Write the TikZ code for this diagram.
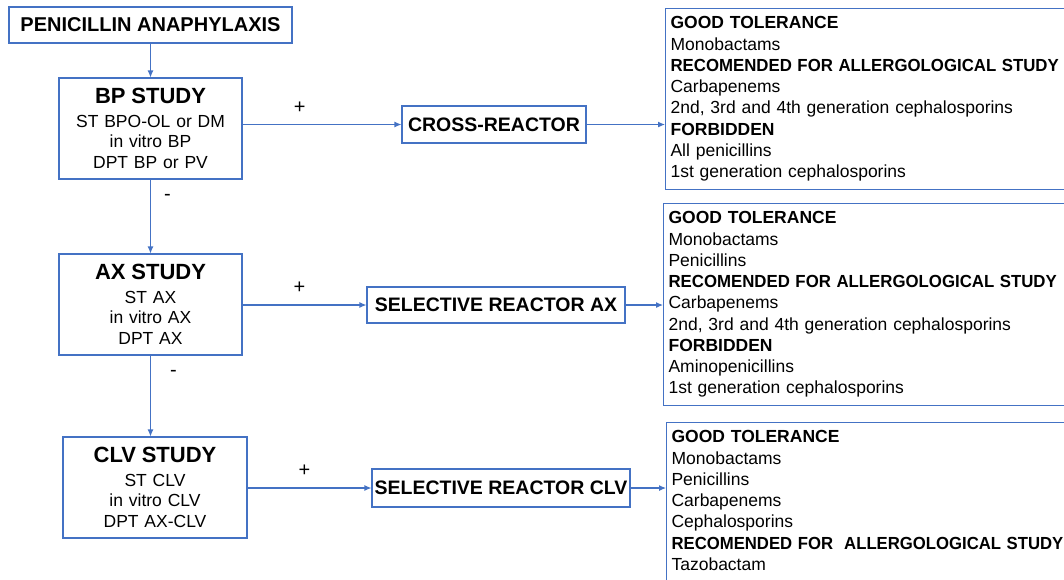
\documentclass[tikz,border=0pt]{standalone}
\usepackage{fontspec}
\setmainfont{Liberation Sans}
\usetikzlibrary{arrows.meta, positioning}
\definecolor{flowblue}{HTML}{4472C4}
\newcommand{\fitline}[2]{\scalebox{#1}[1]{\textbf{#2}}}

\begin{document}
\begin{tikzpicture}[x=1pt, y=-1pt,
    every node/.style={font=\fontsize{17.5}{20.5}\selectfont},
    studybox/.style={draw=flowblue, line width=1.1pt, align=center, text width=175pt, minimum width=183pt, minimum height=101pt, inner sep=0pt},
    resultbox/.style={draw=flowblue, line width=1.1pt, font=\fontsize{19.5}{22}\selectfont\bfseries, inner sep=0pt, minimum height=37pt},
    drugbox/.style={draw=flowblue, line width=1.1pt, anchor=north west, align=left, text width=440pt, inner xsep=5pt, inner ysep=8pt, font=\fontsize{17.5}{21.3}\selectfont},
    sign/.style={font=\fontsize{20}{20}\selectfont, inner sep=0pt},
    arrow/.style={-{Latex[length=7pt, width=6pt]}, draw=flowblue, fill=flowblue, line width=1.1pt}]
    \useasboundingbox (0,0) rectangle (1064,579);
    \clip (0,0) rectangle (1064,579);

    % left column
    \node[draw=flowblue, line width=1.1pt, font=\fontsize{20}{22}\selectfont\bfseries, minimum width=283pt, minimum height=36pt, inner sep=0pt] (pen) at (150.5,25) {PENICILLIN ANAPHYLAXIS};
    \node[studybox] (bp) at (150.5,128.5) {{\fontsize{22}{20.5}\selectfont\bfseries BP STUDY}\\[3pt]ST BPO-OL or DM\\in vitro BP\\DPT BP or PV};
    \node[studybox] (ax) at (150.5,304.5) {{\fontsize{22}{20.5}\selectfont\bfseries AX STUDY}\\[3pt]ST AX\\in vitro AX\\DPT AX};
    \node[studybox, minimum width=184pt] (clv) at (155,487.5) {{\fontsize{22}{20.5}\selectfont\bfseries CLV STUDY}\\[3pt]ST CLV\\in vitro CLV\\DPT AX-CLV};

    % middle column
    \node[resultbox, minimum width=184pt] (cross) at (494,124.5) {CROSS-REACTOR};
    \node[resultbox, minimum width=258pt, minimum height=36pt] (srax) at (496,305) {SELECTIVE REACTOR AX};
    \node[resultbox, minimum width=258pt, minimum height=38pt] (srclv) at (501,488) {SELECTIVE REACTOR CLV};

    % right column
    \node[drugbox] (r1) at (665,8) {\textbf{GOOD TOLERANCE}\\Monobactams\\\fitline{0.96}{RECOMENDED FOR ALLERGOLOGICAL STUDY}\\Carbapenems\\2nd, 3rd and 4th generation cephalosporins\\\textbf{FORBIDDEN}\\All penicillins\\1st generation cephalosporins};
    \node[drugbox, font=\fontsize{17.5}{21.25}\selectfont] (r2) at (663,203) {\textbf{GOOD TOLERANCE}\\Monobactams\\Penicillins\\\fitline{0.96}{RECOMENDED FOR ALLERGOLOGICAL STUDY}\\Carbapenems\\2nd, 3rd and 4th generation cephalosporins\\\textbf{FORBIDDEN}\\Aminopenicillins\\1st generation cephalosporins};
    \node[drugbox, text depth=150pt] (r3) at (666,422) {\textbf{GOOD TOLERANCE}\\Monobactams\\Penicillins\\Carbapenems\\Cephalosporins\\\fitline{0.955}{RECOMENDED FOR~ ALLERGOLOGICAL STUDY}\\Tazobactam};

    % connectors
    \draw[arrow] (pen) -- (bp);
    \draw[arrow] (bp) -- node[sign, pos=0.24, xshift=17pt] {-} (ax);
    \draw[arrow] (ax.south) -- node[sign, pos=0.22, xshift=23pt] {-} (ax.south |- clv.north);
    \draw[arrow] (bp.east |- cross.west) -- node[sign, pos=0.36, yshift=17pt] {+} (cross.west);
    \draw[arrow] (ax.east |- srax.west) -- node[sign, pos=0.46, yshift=17pt] {+} (srax.west);
    \draw[arrow] (clv.east |- srclv.west) -- node[sign, pos=0.46, yshift=17pt] {+} (srclv.west);
    \draw[arrow] (cross.east) -- (cross.east -| r1.west);
    \draw[arrow] (srax.east) -- (srax.east -| r2.west);
    \draw[arrow] (srclv.east) -- (srclv.east -| r3.west);
\end{tikzpicture}
\end{document}
